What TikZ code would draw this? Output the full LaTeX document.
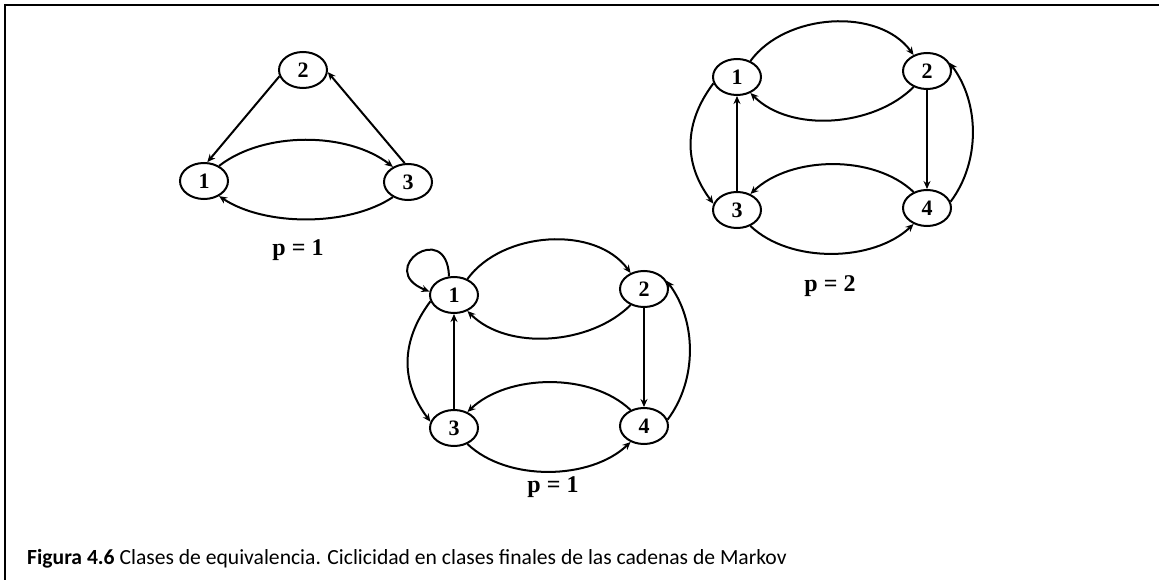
\documentclass[tikz,border=0pt]{standalone}
\usepackage{fontspec}
\setmainfont{Liberation Serif}
\newfontfamily\capfont{Carlito}
\usetikzlibrary{shapes.geometric,arrows.meta}
\tikzset{
  st/.style={ellipse,draw,line width=2pt,minimum width=48pt,minimum height=36pt,inner sep=0pt,font=\fontsize{22}{22}\selectfont\bfseries},
  ed/.style={line width=2pt,-{Stealth[length=8pt,width=7pt]}},
  plab/.style={font=\fontsize{24}{24}\selectfont\bfseries},
  frame/.style={line width=2.4pt}
}
\newcommand{\fourgraph}[1]{%
  \node[st] (#1a) at (0,0) {1};
  \node[st] (#1b) at (190,-6) {2};
  \node[st] (#1c) at (0,133) {3};
  \node[st] (#1d) at (190,131) {4};
  \draw[ed] (#1a.50) .. controls +(35,-48) and +(-35,-48) .. (#1b.130);
  \draw[ed] (#1b.-130) .. controls +(-40,40) and +(40,40) .. (#1a.-50);
  \draw[ed] (#1c.north) -- (#1a.south);
  \draw[ed] (#1b.south) -- (#1d.north);
  \draw[ed] (#1d.130) .. controls +(-40,-38) and +(40,-38) .. (#1c.50);
  \draw[ed] (#1c.-50) .. controls +(40,38) and +(-40,38) .. (#1d.-130);
  \draw[ed] (#1a.195) .. controls +(-30,40) and +(-30,-40) .. (#1c.165);
  \draw[ed] (#1d.15) .. controls +(30,-40) and +(30,40) .. (#1b.20);
}
\begin{document}
\begin{tikzpicture}[x=1pt,y=-1pt]
\useasboundingbox (0,0) rectangle (1159,580);
\draw[frame] (5,5) -- (1159,5);
\draw[frame] (5,4) -- (5,580);
% graph A
\node[st] (a1) at (204,181) {1};
\node[st] (a2) at (303,70) {2};
\node[st] (a3) at (408,182) {3};
\draw[ed] (a2.195) -- (a1.80);
\draw[ed] (a3.100) -- (a2.-5);
\draw[ed] (a1.45) .. controls +(45,-35) and +(-45,-35) .. (a3.135);
\draw[ed] (a3.-135) .. controls +(-45,30) and +(45,30) .. (a1.-45);
\node[plab] (pa) at (298,250) {p = 1};
% graph B
\begin{scope}[shift={(454,295)}]
\fourgraph{b}
\draw[ed] (ba.105) .. controls +(-2,-58) and +(-55,-22) .. (ba.172);
\end{scope}
\node[plab] (pb) at (553,487) {p = 1};
% graph C
\begin{scope}[shift={(737,77)}]
\fourgraph{c}
\end{scope}
\node[plab] (pc) at (830,286) {p = 2};
\node[anchor=base west,inner sep=0pt,font=\capfont\fontsize{21.6}{21.6}\selectfont] (cap) at (27,564) {\textbf{Figura 4.6} Clases de equivalencia. Ciclicidad en clases finales de las cadenas de Markov};
\end{tikzpicture}
\end{document}
